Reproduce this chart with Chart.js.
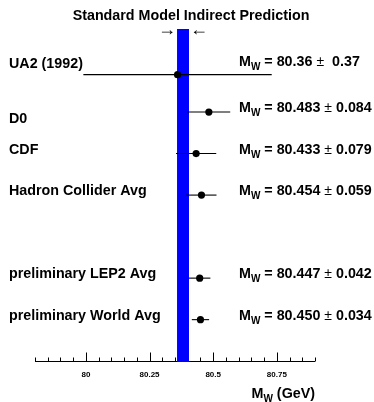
<!DOCTYPE html>
<html lang="en">
<head>
  <meta charset="UTF-8">
  <title>Standard Model Indirect Prediction</title>
  <script src="https://cdn.jsdelivr.net/npm/chart.js"></script>
  <style>
    body { margin: 0; background: #fff; }
    canvas { display: block; }
  </style>
</head>
<body>
  <canvas id="mwChart" width="374" height="402"></canvas>

  <script>
    // measurements, top to bottom
    const names = ['UA2 (1992)', 'D0', 'CDF', 'Hadron Collider Avg', 'preliminary LEP2 Avg', 'preliminary World Avg'];
    const mass = [80.36, 80.483, 80.433, 80.454, 80.447, 80.450];
    const err = [0.37, 0.084, 0.079, 0.059, 0.042, 0.034];
    const massText = ['80.36', '80.483', '80.433', '80.454', '80.447', '80.450'];
    const errText = [' 0.37', '0.084', '0.079', '0.059', '0.042', '0.034'];
    // row of each point, and of its two labels
    const rows = [6.9, 6, 5, 4, 2, 1];
    const nameRows = [7.07, 5.74, 5, 4, 2, 1];
    const textRows = [7.12, 6, 5, 4, 2, 1];
    // SM indirect prediction band
    const band = [80.358, 80.405];
    const xRange = [79.8, 80.9];
    const yRange = [-0.02, 8];

    const FONT = '"Liberation Sans", Arial, Helvetica, sans-serif';
    const BIG = 'bold 14.3px ' + FONT;

    function drawMW(ctx, x0, yb) {
      ctx.font = BIG;
      ctx.fillText('M', x0, yb);
      let xx = x0 + ctx.measureText('M').width;
      ctx.font = 'bold 10px ' + FONT;
      ctx.fillText('W', xx, yb + 4);
      return xx + ctx.measureText('W').width;
    }

    const axisPlugin = {
      id: 'axisUp',
      beforeDatasetsDraw(chart) {
        const { ctx, scales: { x }, chartArea } = chart;
        const yb = Math.round(chartArea.bottom) - 0.5;
        ctx.save();
        ctx.strokeStyle = '#000';
        ctx.lineWidth = 1;
        ctx.beginPath();
        ctx.moveTo(x.left, yb);
        ctx.lineTo(x.right, yb);
        x.ticks.forEach(t => {
          const px = Math.round(x.getPixelForValue(t.value)) + 0.5;
          const major = Math.round(t.value * 100) % 25 === 0;
          ctx.moveTo(px, yb);
          ctx.lineTo(px, yb - (major ? 9 : 4));
        });
        ctx.stroke();
        ctx.restore();
      }
    };

    const textPlugin = {
      id: 'texts',
      afterDraw(chart) {
        const { ctx, scales: { x, y } } = chart;
        ctx.save();
        ctx.fillStyle = '#000';
        ctx.textBaseline = 'alphabetic';

        ctx.font = BIG;
        ctx.textAlign = 'center';
        ctx.fillText('Standard Model Indirect Prediction', 191, 19.5);

        // arrows pointing at the band
        ctx.font = '18px ' + FONT;
        ctx.textBaseline = 'middle';
        ctx.textAlign = 'right';
        ctx.fillText('\u2192', x.getPixelForValue(band[0]) - 1, 30.5);
        ctx.textAlign = 'left';
        ctx.fillText('\u2190', x.getPixelForValue(band[1]) + 1, 30.5);

        ctx.textBaseline = 'alphabetic';
        names.forEach((n, i) => {
          ctx.font = BIG;
          ctx.fillText(n, 9, y.getPixelForValue(nameRows[i]));

          const yb = y.getPixelForValue(textRows[i]);
          let xx = drawMW(ctx, 239, yb);
          ctx.font = BIG;
          const s1 = ' = ' + massText[i] + ' ';
          ctx.fillText(s1, xx, yb);
          xx += ctx.measureText(s1).width;
          ctx.font = '14px ' + FONT;
          ctx.fillText('\u00b1', xx, yb);
          xx += ctx.measureText('\u00b1').width;
          ctx.font = BIG;
          ctx.fillText(' ' + errText[i], xx, yb);
        });

        // axis title, right aligned to the axis end
        ctx.font = BIG;
        const wM = ctx.measureText('M').width;
        const wT = ctx.measureText(' (GeV)').width;
        ctx.font = 'bold 10px ' + FONT;
        const wW = ctx.measureText('W').width;
        const x0 = x.right - (wM + wW + wT);
        const xx = drawMW(ctx, x0, 398);
        ctx.font = BIG;
        ctx.fillText(' (GeV)', xx, 398);
        ctx.restore();
      }
    };

    const datasets = [];
    datasets.push({
      type: 'scatter',
      data: mass.map((m, i) => ({ x: m, y: rows[i] })),
      pointRadius: 3.6,
      pointBackgroundColor: '#000',
      pointBorderWidth: 0,
      order: 0
    });
    mass.forEach((m, i) => {
      datasets.push({
        type: 'line',
        data: [{ x: m - err[i], y: rows[i] }, { x: m + err[i], y: rows[i] }],
        borderColor: '#000',
        borderWidth: 1.1,
        pointRadius: 0,
        fill: false,
        order: 1
      });
    });
    datasets.push({
      type: 'line',
      data: [{ x: band[0], y: yRange[1] }, { x: band[1], y: yRange[1] }],
      borderColor: '#0000ff',
      borderWidth: 1,
      backgroundColor: '#0000ff',
      pointRadius: 0,
      fill: 'start',
      order: 2
    });

    new Chart(document.getElementById('mwChart'), {
      type: 'scatter',
      data: { datasets },
      plugins: [axisPlugin, textPlugin],
      options: {
        responsive: false,
        animation: false,
        events: [],
        layout: { padding: { left: 35, right: 59, top: 29, bottom: 0 } },
        plugins: { legend: { display: false }, tooltip: { enabled: false } },
        scales: {
          x: {
            type: 'linear',
            min: xRange[0],
            max: xRange[1],
            afterFit: s => { s.height = 40; },
            grid: { display: false, drawTicks: false },
            border: { display: false },
            ticks: {
              stepSize: 0.05,
              autoSkip: false,
              maxRotation: 0,
              padding: 8,
              color: '#000',
              font: { family: FONT, size: 8, weight: 'bold' },
              callback: v => (Math.round(v * 100) % 25 === 0 ? String(Math.round(v * 100) / 100) : '')
            }
          },
          y: { display: false, min: yRange[0], max: yRange[1] }
        }
      }
    });
  </script>
</body>
</html>
